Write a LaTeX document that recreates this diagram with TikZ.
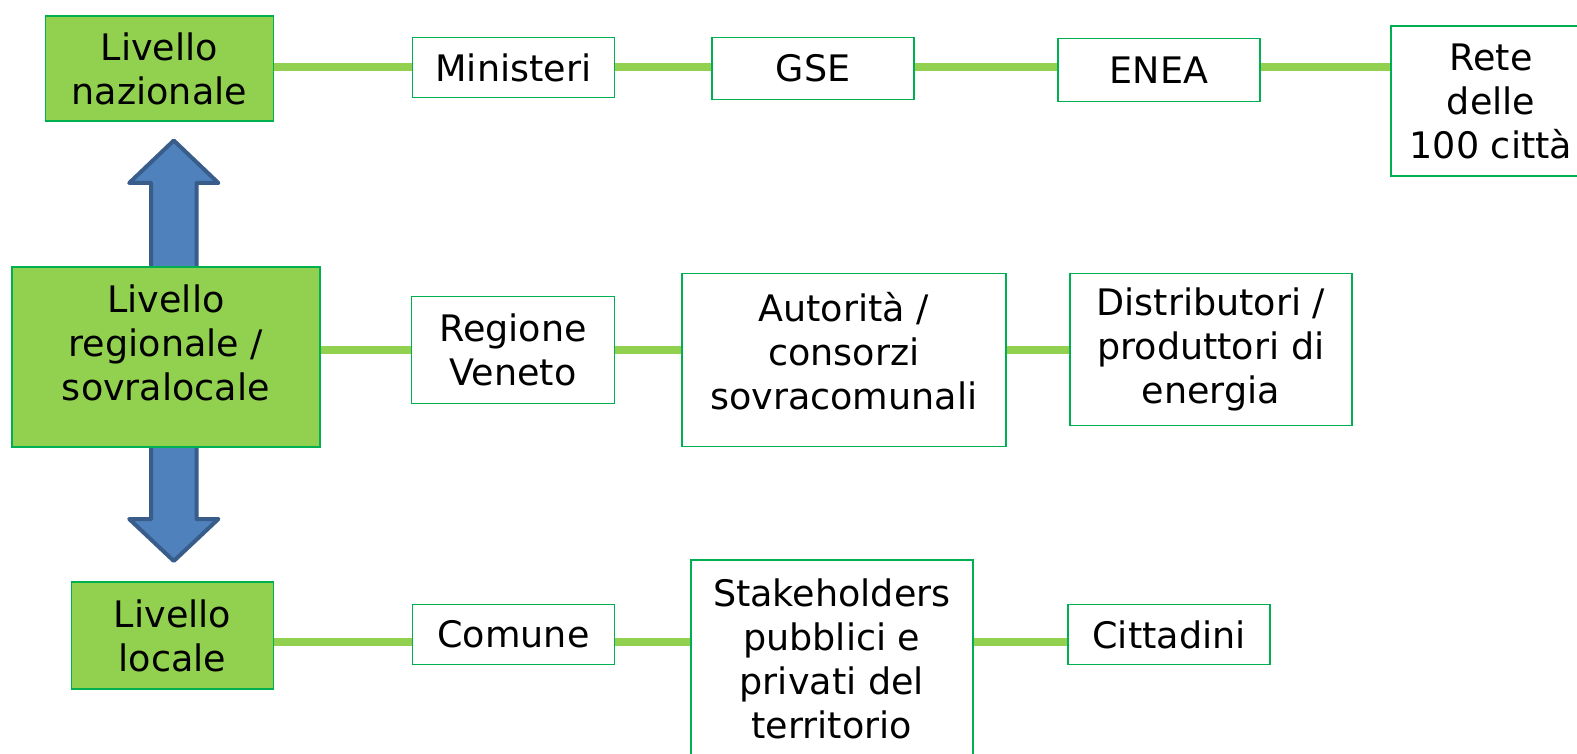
\documentclass[tikz,border=0pt]{standalone}
\usepackage{fontspec}
\setmainfont{DejaVu Sans}
\definecolor{lgreen}{HTML}{92D050}
\definecolor{dgreen}{HTML}{00B050}
\definecolor{afill}{HTML}{4F81BD}
\definecolor{aline}{HTML}{385D8A}
\begin{document}
\begin{tikzpicture}[x=1pt,y=-1pt,
  txt/.style={align=center, inner sep=0pt, font=\fontsize{36.5}{44}\selectfont},
  box/.style={txt, draw=dgreen, line width=1.7pt, fill=white},
  lvl/.style={box, fill=lgreen},
  link/.style={draw=lgreen, line width=8pt}]
\useasboundingbox (0,0) rectangle (1577,754);
% double arrow
\draw[fill=afill, draw=aline, line width=4pt, line join=round]
  (173.8,140.5) -- (218.4,183) -- (196.6,183) -- (196.6,519) -- (218.4,519)
  -- (173.8,561) -- (129.2,519) -- (151,519) -- (151,183) -- (129.2,183) -- cycle;
% row 1
\node[lvl, minimum width=228pt, minimum height=105pt] (nat) at (159.4,68.4) {Livello\\nazionale};
\node[box, minimum width=202pt, minimum height=60pt] (min) at (513.4,67.4) {Ministeri};
\node[box, minimum width=202pt, minimum height=62pt] (gse) at (813,68.4) {GSE};
\node[box, minimum width=202pt, minimum height=63pt] (enea) at (1159,69.9) {ENEA};
\node[box, minimum width=200pt, minimum height=150pt] (rete) at (1491,101) {Rete\\delle\\100 città};
% row 2
\node[lvl, minimum width=308pt, minimum height=180pt] (reg) at (165.9,356.7) {};
\node[txt] (regt) at (165.9,343) {Livello\\regionale /\\sovralocale};
\node[box, minimum width=203pt, minimum height=107pt] (rv) at (513,350) {Regione\\Veneto};
\node[box, minimum width=324pt, minimum height=173pt] (aut) at (843.8,360) {};
\node[txt] (autt) at (843.8,351) {Autorità /\\consorzi\\sovracomunali};
\node[box, minimum width=282pt, minimum height=152pt] (dis) at (1210.8,349.5) {Distributori /\\produttori di\\energia};
% row 3
\node[lvl, minimum width=202pt, minimum height=107pt] (loc) at (172.5,635.6) {Livello\\locale};
\node[box, minimum width=202pt, minimum height=60pt] (com) at (513.4,634.6) {Comune};
\node[box, minimum width=282pt, minimum height=198pt] (stk) at (831.8,659) {Stakeholders\\pubblici e\\privati del\\territorio};
\node[box, minimum width=202pt, minimum height=60pt] (cit) at (1169,634.6) {Cittadini};
% connectors
\coordinate (r1) at (0,67.5);
\coordinate (r2) at (0,349.5);
\coordinate (r3) at (0,641.5);
\draw[link] (nat.east |- r1) -- (min.west |- r1);
\draw[link] (min.east |- r1) -- (gse.west |- r1);
\draw[link] (gse.east |- r1) -- (enea.west |- r1);
\draw[link] (enea.east |- r1) -- (rete.west |- r1);
\draw[link] (reg.east |- r2) -- (rv.west |- r2);
\draw[link] (rv.east |- r2) -- (aut.west |- r2);
\draw[link] (aut.east |- r2) -- (dis.west |- r2);
\draw[link] (loc.east |- r3) -- (com.west |- r3);
\draw[link] (com.east |- r3) -- (stk.west |- r3);
\draw[link] (stk.east |- r3) -- (cit.west |- r3);
\end{tikzpicture}
\end{document}
